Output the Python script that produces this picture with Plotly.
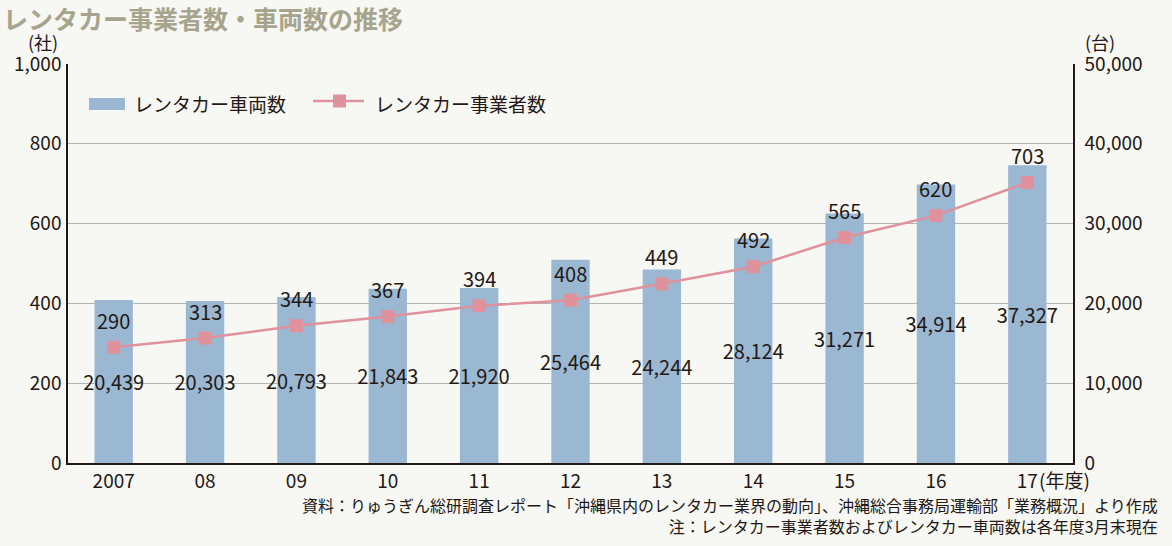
import plotly.graph_objects as go

# ---- data ----
years = ["2007", "08", "09", "10", "11", "12", "13", "14", "15", "16", "17"]
vehicles = [20439, 20303, 20793, 21843, 21920, 25464, 24244, 28124, 31271, 34914, 37327]
operators = [290, 313, 344, 367, 394, 408, 449, 492, 565, 620, 703]
vehicle_name = "レンタカー車両数"
operator_name = "レンタカー事業者数"
title_text = "レンタカー事業者数・車両数の推移"
left_unit = "(社)"
right_unit = "(台)"
year_suffix = "(年度)"
source_text = "資料：りゅうぎん総研調査レポート「沖縄県内のレンタカー業界の動向」、沖縄総合事務局運輸部「業務概況」より作成"
note_text = "注：レンタカー事業者数およびレンタカー車両数は各年度3月末現在"

# ---- style ----
FONT = "Noto Sans CJK JP"
INK = "#231815"
BAR = "#9bb8d3"
LINE = "#df929c"
BG = "#f7f7f3"
GRID = "#b4b4b4"

W, H = 1172, 546
L, R, T, B = 68, 99, 64, 83
PW, PH = W - L - R, H - T - B


def px(xp):
    return (xp - L) / PW


def py(yp):
    return (H - B - yp) / PH


idx = list(range(len(years)))

fig = go.Figure()

fig.add_trace(go.Bar(
    x=idx, y=vehicles, yaxis="y", name=vehicle_name,
    marker=dict(color=BAR, line=dict(width=0)),
    width=0.42,
    texttemplate="%{y:,}", textposition="inside", insidetextanchor="middle",
    textangle=0, constraintext="none",
    textfont=dict(family=FONT, size=20, color=INK),
    showlegend=False, hoverinfo="skip",
))

fig.add_trace(go.Scatter(
    x=idx, y=operators, yaxis="y2", name=operator_name,
    mode="lines+markers",
    line=dict(color=LINE, width=2.5),
    marker=dict(symbol="square", size=13, color=LINE),
    showlegend=False, hoverinfo="skip",
))


def note(x, y, text, size, xanchor="center", xref="paper", yref="paper", **kw):
    return dict(x=x, y=y, xref=xref, yref=yref, xanchor=xanchor, yanchor="middle",
                showarrow=False, text=text, font=dict(family=FONT, size=size, color=INK), **kw)


annotations = []
for i, v in zip(idx, operators):
    annotations.append(note(i, v, str(v), 20, xref="x", yref="y2", yshift=27))

# axis unit labels
annotations.append(note(px(43), py(42), left_unit, 18))
annotations.append(note(px(1100), py(42), right_unit, 18))
# year suffix
annotations.append(note(idx[-1], py(479), year_suffix, 19, xanchor="left", xref="x", xshift=10))
# footer (two right-aligned lines)
annotations.append(note(px(1160), py(515.5), source_text + "<br>" + note_text, 16,
                        xanchor="right", align="right"))
# legend texts
annotations.append(note(px(132), py(103), vehicle_name, 19, xanchor="left"))
annotations.append(note(px(373), py(103), operator_name, 19, xanchor="left"))

shapes = [
    dict(type="rect", xref="paper", yref="paper", x0=px(89), x1=px(125), y0=py(110), y1=py(98),
         fillcolor=BAR, line=dict(width=0)),
    dict(type="line", xref="paper", yref="paper", x0=px(313), x1=px(364), y0=py(101), y1=py(101),
         line=dict(color=LINE, width=2.5)),
    dict(type="rect", xref="paper", yref="paper", x0=px(333), x1=px(346), y0=py(107.5), y1=py(94.5),
         fillcolor=LINE, line=dict(width=0)),
]

fig.update_layout(
    width=W, height=H,
    margin=dict(l=L, r=R, t=T, b=B, autoexpand=False),
    paper_bgcolor=BG, plot_bgcolor=BG,
    font=dict(family=FONT, size=19, color=INK),
    title=dict(text=title_text, xref="container", yref="container",
               x=3 / W, y=1 - 20 / H, xanchor="left", yanchor="middle",
               font=dict(family=FONT, size=25, color="#a6a48c", weight="bold")),
    showlegend=False,
    xaxis=dict(range=[-0.5, len(years) - 0.5], tickmode="array", tickvals=idx, ticktext=years,
               showline=True, linecolor=INK, linewidth=1.5,
               ticks="", showgrid=False, zeroline=False, ticklabelstandoff=0,
               tickfont=dict(family=FONT, size=19, color=INK)),
    yaxis=dict(side="right", range=[0, 50000], dtick=10000, tickformat=",",
               showgrid=True, gridcolor=GRID, gridwidth=1, zeroline=False,
               showline=True, linecolor=INK, linewidth=1.5, ticks="",
               ticklabelstandoff=6,
               tickfont=dict(family=FONT, size=19, color=INK)),
    yaxis2=dict(overlaying="y", side="left", range=[0, 1000], dtick=200, tickformat=",",
                showgrid=False, zeroline=False,
                showline=True, linecolor=INK, linewidth=1.5, ticks="",
                ticklabelstandoff=1,
                tickfont=dict(family=FONT, size=19, color=INK)),
    annotations=annotations,
    shapes=shapes,
)

fig.write_html("out.html", config={"displayModeBar": False},
               post_script="document.body.style.margin='0px';")
